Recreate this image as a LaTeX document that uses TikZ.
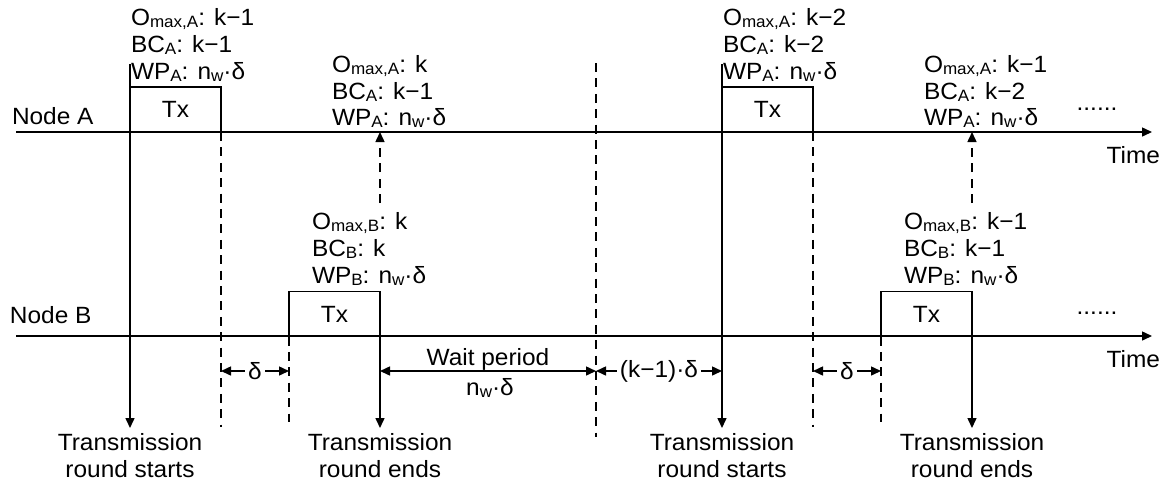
\documentclass[tikz,border=0pt]{standalone}
\usepackage{fontspec}
\setmainfont[FakeStretch=1.04]{Liberation Sans}
\usetikzlibrary{arrows.meta}
\newcommand\lowtxt[1]{\raisebox{-1.3pt}{\fontsize{8.2}{8.2}\selectfont #1}}
\begin{document}
\begin{tikzpicture}[x=0.5pt,y=-0.5pt,
  every node/.style={font=\fontsize{11.75}{13.5}\selectfont, inner sep=0pt, outer sep=0pt},
  ln/.style={line width=0.75pt},
  tip/.style={-{Triangle[length=5pt,width=4.5pt]}},
  dtip/.style={{Triangle[length=5pt,width=4.5pt]}-{Triangle[length=5pt,width=4.5pt]}},
  dsh/.style={line width=0.75pt, dash pattern=on 4.5pt off 3.2pt},
  lbl/.style={anchor=base west},
  txbox/.style={draw, line width=0.75pt, minimum width=45.5pt, minimum height=22.5pt},
  capt/.style={align=center, anchor=north, inner ysep=2.5pt},
  gap/.style={fill=white, inner xsep=1.5pt, inner ysep=0pt}
]
\useasboundingbox (0,0) rectangle (1175,489);

% node labels and axes
\node[lbl] (nodeA) at (12,124) {Node A};
\node[lbl] (nodeB) at (10,323) {Node B};
\coordinate (A0) at (16,132); \coordinate (A1) at (1152,132);
\coordinate (B0) at (16,336); \coordinate (B1) at (1152,336);
\draw[ln,tip] (A0) -- (A1);
\draw[ln,tip] (B0) -- (B1);
\node[anchor=base east] (timeA) at (1160,163) {Time};
\node[anchor=base east] (timeB) at (1160,367) {Time};
\node (dotsA) at (1097,109) {......};
\node (dotsB) at (1097,313) {......};

% Tx boxes
\node[txbox] (txA1) at (175.5,109.5) {Tx};
\node[txbox] (txB1) at (334.5,314) {Tx};
\node[txbox] (txA2) at (767.5,109.5) {Tx};
\node[txbox] (txB2) at (926.5,314) {Tx};

% state labels
\node[lbl] (a1l1) at (131,25) {O\lowtxt{max,A}: k−1};
\node[lbl] (a1l2) at (131,52) {BC\lowtxt{A}: k−1};
\node[lbl] (a1l3) at (131,79) {WP\lowtxt{A}: n\lowtxt{w}·δ};

\node[lbl] (a2l1) at (332,72) {O\lowtxt{max,A}: k};
\node[lbl] (a2l2) at (332,99) {BC\lowtxt{A}: k−1};
\node[lbl] (a2l3) at (332,125) {WP\lowtxt{A}: n\lowtxt{w}·δ};

\node[lbl] (b1l1) at (312,229) {O\lowtxt{max,B}: k};
\node[lbl] (b1l2) at (312,256) {BC\lowtxt{B}: k};
\node[lbl] (b1l3) at (312,283) {WP\lowtxt{B}: n\lowtxt{w}·δ};

\node[lbl] (a3l1) at (723,25) {O\lowtxt{max,A}: k−2};
\node[lbl] (a3l2) at (723,52) {BC\lowtxt{A}: k−2};
\node[lbl] (a3l3) at (723,79) {WP\lowtxt{A}: n\lowtxt{w}·δ};

\node[lbl] (a4l1) at (924,72) {O\lowtxt{max,A}: k−1};
\node[lbl] (a4l2) at (924,99) {BC\lowtxt{A}: k−2};
\node[lbl] (a4l3) at (924,125) {WP\lowtxt{A}: n\lowtxt{w}·δ};

\node[lbl] (b2l1) at (904,229) {O\lowtxt{max,B}: k−1};
\node[lbl] (b2l2) at (904,256) {BC\lowtxt{B}: k−1};
\node[lbl] (b2l3) at (904,283) {WP\lowtxt{B}: n\lowtxt{w}·δ};

% round start / end arrows
\coordinate (rs1) at (130,64);
\node[capt] (cs1) at (130,428) {Transmission\\round starts};
\draw[ln,tip] (rs1) -- (cs1.north);
\node[capt] (ce1) at (380,428) {Transmission\\round ends};
\draw[ln,tip] (txB1.south east) -- (ce1.north);
\coordinate (rs2) at (722,64);
\node[capt] (cs2) at (722,428) {Transmission\\round starts};
\draw[ln,tip] (rs2) -- (cs2.north);
\node[capt] (ce2) at (972,428) {Transmission\\round ends};
\draw[ln,tip] (txB2.south east) -- (ce2.north);

% dashed guide lines
\coordinate (g1) at (221,427); \draw[dsh] (txA1.south east) -- (g1);
\coordinate (g2) at (289,422); \draw[dsh] (txB1.south west) -- (g2);
\coordinate (g3a) at (596,63); \coordinate (g3b) at (596,437); \draw[dsh] (g3a) -- (g3b);
\coordinate (g4) at (813,427); \draw[dsh] (txA2.south east) -- (g4);
\coordinate (g5) at (881,422); \draw[dsh] (txB2.south west) -- (g5);

% dashed notification arrows
\coordinate (u1) at (380,203); \coordinate (u1t) at (380,132);
\draw[dsh,tip] (u1) -- (u1t);
\coordinate (u2) at (972,203); \coordinate (u2t) at (972,132);
\draw[dsh,tip] (u2) -- (u2t);

% interval arrows
\coordinate (i1a) at (221,371); \coordinate (i1b) at (289,371);
\draw[ln,dtip] (i1a) -- node[gap] (del1) {δ} (i1b);
\coordinate (w1a) at (380,371); \coordinate (w1b) at (596,371);
\draw[ln,dtip] (w1a) -- (w1b);
\node[anchor=base] (wp) at (488,365) {Wait period};
\node[anchor=base] (nw) at (490,395) {n\lowtxt{w}·δ};
\coordinate (k1a) at (596,371); \coordinate (k1b) at (722,371);
\draw[ln,dtip] (k1a) -- node[gap] (kdel) {(k−1)·δ} (k1b);
\coordinate (i2a) at (813,371); \coordinate (i2b) at (881,371);
\draw[ln,dtip] (i2a) -- node[gap] (del2) {δ} (i2b);
\end{tikzpicture}
\end{document}
